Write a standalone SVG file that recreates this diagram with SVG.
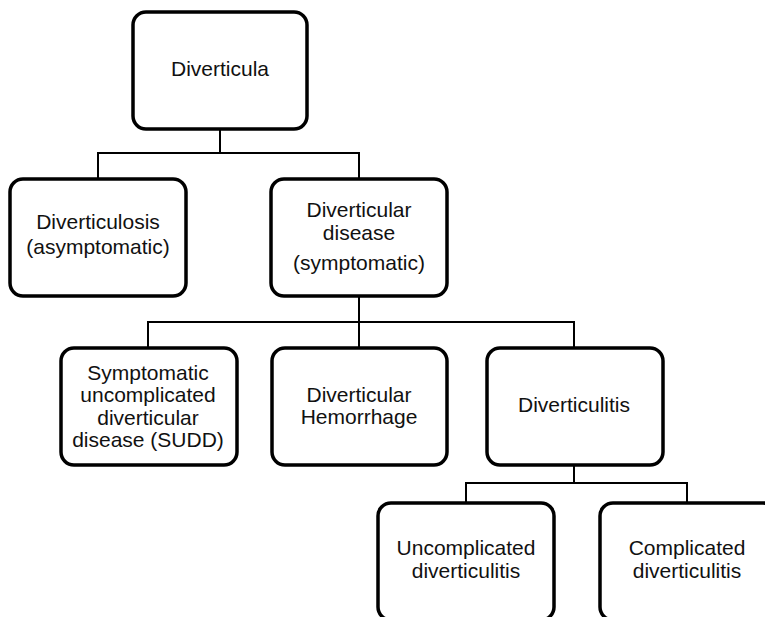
<svg xmlns="http://www.w3.org/2000/svg" width="765" height="617" viewBox="0 0 765 617">
<style>
.box{fill:#fff;stroke:#000;stroke-width:3.5}
.ln{fill:none;stroke:#000;stroke-width:2}
text{font-family:"Liberation Sans",Arial,sans-serif;font-size:21px;fill:#111;text-anchor:middle}
</style>
<rect width="765" height="617" fill="#fff"/>
<g id="connectors">
<path class="ln" d="M220 129V153M98 178V153H359V178"/>
<path class="ln" d="M359 296V322M148 348V322H574V348M359 322V348"/>
<path class="ln" d="M574 466V483M466 503V483H687V503"/>
</g>
<g id="n-diverticula">
<rect class="box" x="133" y="12" width="174" height="117" rx="13"/>
<text x="220" y="76">Diverticula</text>
</g>
<g id="n-diverticulosis">
<rect class="box" x="10" y="179" width="176" height="117" rx="13"/>
<text x="98" y="229">Diverticulosis</text>
<text x="98" y="254">(asymptomatic)</text>
</g>
<g id="n-disease">
<rect class="box" x="271" y="179" width="176" height="117" rx="13"/>
<text x="359" y="217">Diverticular</text>
<text x="359" y="240">disease</text>
<text x="359" y="270">(symptomatic)</text>
</g>
<g id="n-sudd">
<rect class="box" x="61" y="348" width="176" height="117" rx="13"/>
<text x="148" y="380">Symptomatic</text>
<text x="148" y="402">uncomplicated</text>
<text x="148" y="425">diverticular</text>
<text x="148" y="447">disease (SUDD)</text>
</g>
<g id="n-hemorrhage">
<rect class="box" x="272" y="348" width="175" height="117" rx="13"/>
<text x="359" y="402">Diverticular</text>
<text x="359" y="424">Hemorrhage</text>
</g>
<g id="n-diverticulitis">
<rect class="box" x="487" y="348" width="176" height="117" rx="13"/>
<text x="574" y="412">Diverticulitis</text>
</g>
<g id="n-uncomplicated">
<rect class="box" x="378" y="503" width="176" height="117" rx="13"/>
<text x="466" y="555">Uncomplicated</text>
<text x="466" y="578">diverticulitis</text>
</g>
<g id="n-complicated">
<rect class="box" x="600" y="503" width="176" height="117" rx="13"/>
<text x="687" y="555">Complicated</text>
<text x="687" y="578">diverticulitis</text>
</g>
</svg>
